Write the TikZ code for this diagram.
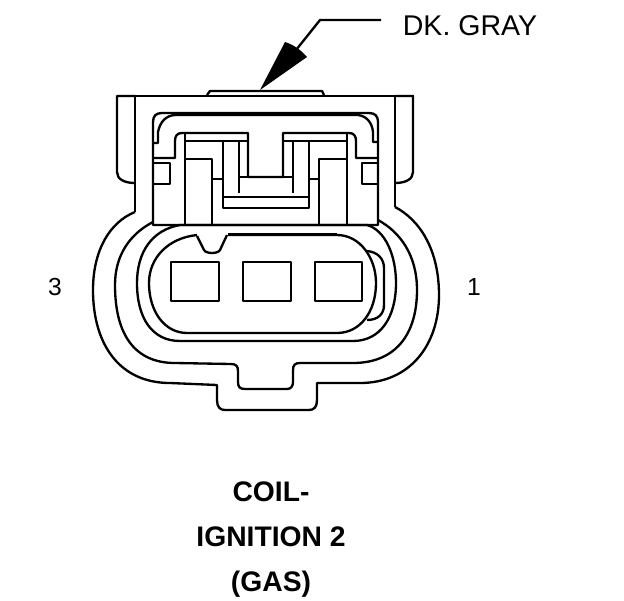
\documentclass[tikz,border=0pt]{standalone}
\usepackage{fontspec}
\setmainfont{Liberation Sans}
\usetikzlibrary{positioning}

\begin{document}
\begin{tikzpicture}[x=0.75pt,y=-0.75pt,line join=round,
   outline/.style={draw=black,line width=1.75pt},
   pinlabel/.style={font=\fontsize{18.5}{20}\selectfont,inner sep=0pt},
   colorlabel/.style={font=\fontsize{21.4}{24}\selectfont,inner sep=0pt},
   titlelabel/.style={font=\fontsize{21.2}{24}\selectfont\bfseries,inner sep=0pt}]
   \useasboundingbox (0,0) rectangle (624,600);

   % labels
   \node[colorlabel] (color) at (470,26) {DK. GRAY};
   \node[pinlabel] (pin_3) at (55,287) {3};
   \node[pinlabel] (pin_1) at (474,287) {1};
   \node[titlelabel] (title_1) at (271,492) {COIL-};
   \node[titlelabel] (title_2) [below=33.75pt of title_1.center,anchor=center] {IGNITION 2};
   \node[titlelabel] (title_3) [below=35.25pt of title_2.center,anchor=center] {(GAS)};

   % leader and its arrowhead
   \coordinate (lead_end) at (381,20);
   \coordinate (lead_bend) at (320,20);
   \coordinate (head_tip) at (260,90);
   \coordinate (head_base) at (296,50);
   \draw[outline] (lead_end) -- (lead_bend) -- (head_base);
   \fill (head_tip) -- (285,42) .. controls (294,45) and (301,50) .. (307,57) -- cycle;

   % top of the housing with its side tabs
   \draw[outline] (117,96) -- (414,96);
   \draw[outline] (207,95) -- (210,91) -- (322,91) -- (324,95);
   \draw[outline] (135,96) -- (135,212);
   \draw[outline] (395,96) -- (395,207);
   \draw[outline] (135,96) -- (117,96) -- (117,172)
      .. controls (117,179) and (124,183) .. (135,183);
   \draw[outline] (395,96) -- (413,96) -- (413,172)
      .. controls (413,179) and (406,183) .. (395,183);

   % outer shell
   \draw[outline] (135,212) .. controls (110,222) and (93,250) .. (93,290)
      .. controls (93,345) and (120,383) .. (170,383)
      -- (217,385) -- (217,400) .. controls (217,407) and (220,410) .. (225,410)
      -- (309,410) .. controls (314,410) and (317,407) .. (317,400)
      -- (317,383) -- (360,383)
      .. controls (410,383) and (439,345) .. (439,295)
      .. controls (439,250) and (420,220) .. (395,207);

   % second shell with the bottom key
   \draw[outline] (153,222) .. controls (130,234) and (115,255) .. (115,285)
      .. controls (115,335) and (135,363) .. (175,363)
      -- (231,364) .. controls (236,364) and (238,366) .. (238,371)
      -- (238,382) .. controls (238,387) and (240,389) .. (245,389)
      -- (287,389) .. controls (291,389) and (293,386) .. (293,382)
      -- (293,370) .. controls (293,365) and (295,363) .. (300,363)
      -- (353,363) .. controls (395,363) and (417,335) .. (417,290)
      .. controls (417,255) and (400,232) .. (378,220);

   % inner ovals
   \draw[outline] (180,225) -- (367,225) .. controls (385,230) and (396,255) .. (396,283)
      .. controls (396,318) and (380,341) .. (353,341)
      -- (180,341) .. controls (152,341) and (137,318) .. (137,283)
      .. controls (137,252) and (152,230) .. (180,225);
   \draw[outline] (197,235) .. controls (168,238) and (149,258) .. (149,283)
      .. controls (149,312) and (165,333) .. (187,333)
      -- (337,333) .. controls (360,333) and (376,312) .. (376,283)
      .. controls (376,258) and (360,235) .. (337,235) -- (228,235);
   \draw[outline] (228,234.5) -- (337,234.5);
   \draw[outline] (197,236) -- (204,250) .. controls (206,254) and (218,254) .. (220,250) -- (227,235);
   \draw[outline] (367,251) .. controls (378,252) and (384,259) .. (384,268)
      -- (384,305) .. controls (384,314) and (378,320) .. (367,320);

   % contacts
   \draw[outline] (171,262) rectangle (219,301);
   \draw[outline] (243,262) rectangle (291,301);
   \draw[outline] (315,262) rectangle (362,301);

   % latch frame
   \draw[outline] (153,225) -- (153,122) .. controls (153,116) and (156,113) .. (162,113)
      -- (369,113) .. controls (375,113) and (378,116) .. (378,122) -- (378,225) -- cycle;
   \draw[outline] (153,143) -- (158,143) -- (158,132) .. controls (160,122) and (166,115) .. (176,115)
      -- (358,115) .. controls (366,116) and (372,122) .. (373,132) -- (373,142) -- (378,142);
   \draw[outline] (153,158) -- (175,158) -- (175,141) .. controls (175,136) and (177,133) .. (182,133)
      -- (248,133) -- (248,177) -- (283,177) -- (283,133) -- (349,133)
      .. controls (354,133) and (356,136) .. (356,141) -- (356,158) -- (378,158);

   % latch details
   \draw[outline] (185,133) -- (185,225);
   \draw[outline] (347,133) -- (347,225);
   \draw[outline] (185,141) -- (248,141);
   \draw[outline] (283,141) -- (347,141);
   \draw[outline] (223,141) -- (223,208) -- (309,208) -- (309,141);
   \draw[outline] (239,141) -- (239,193);
   \draw[outline] (293,141) -- (293,193);
   \draw[outline] (223,197) -- (309,197);
   \draw[outline] (239,177) -- (293,177);
   \draw[outline] (212,179) -- (223,179);
   \draw[outline] (309,179) -- (319,179);
   \draw[outline] (185,159) -- (212,159) -- (212,225);
   \draw[outline] (347,159) -- (319,159) -- (319,225);
   \draw[outline] (153,163) -- (170,163) -- (170,184) -- (153,184);
   \draw[outline] (378,163) -- (362,163) -- (362,184) -- (378,184);
\end{tikzpicture}
\end{document}
